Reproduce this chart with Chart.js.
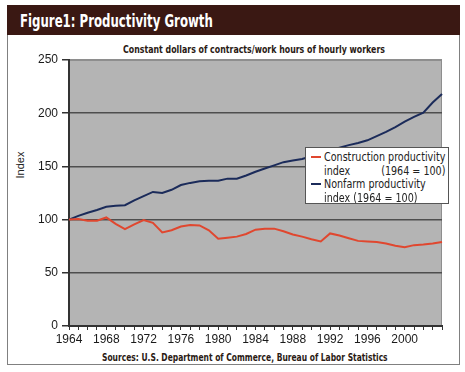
<!DOCTYPE html>
<html>
<head>
<meta charset="utf-8">
<script src="https://cdn.jsdelivr.net/npm/chart.js@4"></script>
<style>
  html, body { margin: 0; padding: 0; background: #fff; }
  #page { position: relative; width: 465px; height: 372px; overflow: hidden; }
  #frame { position: absolute; left: 7px; top: 5px; width: 453px; height: 360px;
           box-sizing: border-box; border: 1.5px solid #808080; border-top: none; }
  #header { position: absolute; left: 7px; top: 5px; width: 453px; height: 30px; background: #3a1813; }
  .txt { position: absolute; white-space: nowrap; transform-origin: left center; }
  .bold { font-family: 'DejaVu Sans Condensed', 'DejaVu Sans', sans-serif; font-weight: bold; color: #2a1a14; }
  #title { left: 20px; top: 12px; font-size: 18px; line-height: 18px; color: #fff; }
  #subtitle { left: 123px; top: 42.5px; font-size: 10.5px; line-height: 12px; }
  #source { left: 102px; top: 351px; font-size: 10.5px; line-height: 12px; }
  #ylabel { left: 20px; top: 165px; font-family: 'Liberation Sans', sans-serif; font-size: 11px;
            color: #222; transform: translate(-50%, -50%) rotate(-90deg); transform-origin: center; }
  canvas { position: absolute; left: 0; top: 0; }
  #legend { position: absolute; left: 305px; top: 147px; width: 144px; height: 57px; box-sizing: border-box;
            background: #fff; border: 1px solid #555; z-index: 2;
            font-family: 'Liberation Sans Narrow', 'DejaVu Sans Condensed', sans-serif; font-size: 12.5px; color: #222; }
  #legend .txt { line-height: 14px; }
  #legend .right { transform-origin: right center; }
  .swatch { position: absolute; left: 5px; width: 10px; height: 2px; }
</style>
</head>
<body>
<div id="page">
  <div id="frame"></div>
  <div id="header"></div>
  <div id="title" class="txt bold" data-w="193">Figure1: Productivity Growth</div>
  <div id="subtitle" class="txt bold" data-w="262">Constant dollars of contracts/work hours of hourly workers</div>
  <div id="source" class="txt bold" data-w="286">Sources: U.S. Department of Commerce, Bureau of Labor Statistics</div>
  <div id="ylabel" class="txt">Index</div>
  <canvas id="chart" width="465" height="372"></canvas>
  <div id="legend">
    <div class="swatch" style="top:8px;background:#e0472f"></div>
    <div class="txt" id="legend-first" style="left:18px;top:2px">Construction productivity</div>
    <div class="txt" style="left:18px;top:16px">index</div>
    <div class="txt right" style="right:3px;top:16px">(1964 = 100)</div>
    <div class="swatch" style="top:35px;background:#1b2b5a"></div>
    <div class="txt" style="left:18px;top:29px">Nonfarm productivity</div>
    <div class="txt" style="left:18px;top:43px">index (1964 = 100)</div>
  </div>
</div>

<script>
/* ---------- DATA ---------- */
const years = [
  '1964', '1965', '1966', '1967', '1968', '1969', '1970', '1971', '1972', '1973',
  '1974', '1975', '1976', '1977', '1978', '1979', '1980', '1981', '1982', '1983',
  '1984', '1985', '1986', '1987', '1988', '1989', '1990', '1991', '1992', '1993',
  '1994', '1995', '1996', '1997', '1998', '1999', '2000', '2001', '2002', '2003', '2004'
];

const constructionIndex = [
  100, 100.5, 99, 99, 102, 96, 91, 95.5, 99.5, 97,
  88, 90, 93.5, 95, 94.5, 90, 82, 83, 84, 86.5,
  90.5, 91.5, 91.5, 89, 86, 84, 81.5, 79.5, 87, 85,
  82.5, 80, 79.5, 79, 77.5, 75.5, 74, 76, 76.5, 77.5, 79
];

const nonfarmIndex = [
  100, 103.5, 106.5, 109, 112, 113, 113.5, 118, 122, 126,
  125, 128, 132.5, 134.5, 136, 136.5, 136.5, 138.5, 138.5, 141.5,
  145, 148, 151, 154, 155.5, 157, 159.5, 161.5, 165, 167.5,
  170, 172, 174.5, 178.5, 182.5, 187, 192, 196.5, 200.5, 210, 218
];

const yMin = 0;
const yMax = 250;
const yStep = 50;
const labelEvery = 4;
const lastLabel = '2000';

/* ---------- TEXT FITTING ---------- */
document.querySelectorAll('[data-w]').forEach(el => {
  const w = Number(el.dataset.w);
  el.style.transform = `scaleX(${w / el.offsetWidth})`;
});

// legend text: one squeeze for all lines, set by the widest line
const legendScale = 121 / document.getElementById('legend-first').offsetWidth;
document.querySelectorAll('#legend .txt').forEach(el => {
  el.style.transform = `scaleX(${legendScale})`;
});

/* ---------- PLOT BACKGROUND ---------- */
const plotBackground = {
  id: 'plotBackground',
  beforeDraw(chart) {
    const { ctx, chartArea: a } = chart;
    ctx.save();
    ctx.fillStyle = '#b4b4b4';
    ctx.fillRect(a.left, a.top, a.right - a.left, a.bottom - a.top);
    ctx.strokeStyle = '#8e8e8e';
    ctx.lineWidth = 1;
    ctx.strokeRect(a.left + 0.5, a.top + 0.5, a.right - a.left - 1, a.bottom - a.top - 1);
    ctx.restore();
  }
};

/* ---------- CHART ---------- */
new Chart(document.getElementById('chart'), {
  type: 'line',
  data: {
    labels: years,
    datasets: [
      {
        label: 'Construction productivity index (1964 = 100)',
        data: constructionIndex,
        borderColor: '#e0472f', borderWidth: 2,
        pointRadius: 0, tension: 0, fill: false
      },
      {
        label: 'Nonfarm productivity index (1964 = 100)',
        data: nonfarmIndex,
        borderColor: '#1b2b5a', borderWidth: 2,
        pointRadius: 0, tension: 0, fill: false
      }
    ]
  },
  options: {
    responsive: false,
    animation: false,
    devicePixelRatio: 1,
    layout: { padding: { left: 0, top: 60, right: 23, bottom: 16 } },
    plugins: { legend: { display: false }, title: { display: false }, tooltip: { enabled: false } },
    scales: {
      x: {
        offset: false,
        afterFit: scale => { scale.height = 30; },
        grid: { drawOnChartArea: false, drawTicks: true, tickLength: 4, tickColor: '#333', offset: false },
        border: { color: '#333', width: 2 },
        ticks: {
          autoSkip: false, maxRotation: 0, minRotation: 0, padding: 2,
          color: '#1a1a1a', font: { family: 'Liberation Sans', size: 12 },
          callback: (val, i) => (i % labelEvery === 0 && years[i] <= lastLabel ? years[i] : '')
        }
      },
      y: {
        min: yMin, max: yMax,
        afterFit: scale => { scale.width = 69; },
        grid: {
          color: c => (c.tick && c.tick.value === yMax ? '#8e8e8e' : '#4e4e4e'),
          lineWidth: 1.5, tickLength: 7, tickColor: '#333'
        },
        border: { color: '#333', width: 2 },
        ticks: {
          stepSize: yStep, padding: 4,
          color: '#1a1a1a', font: { family: 'Liberation Sans', size: 12 }
        }
      }
    }
  },
  plugins: [plotBackground]
});
</script>
</body>
</html>
